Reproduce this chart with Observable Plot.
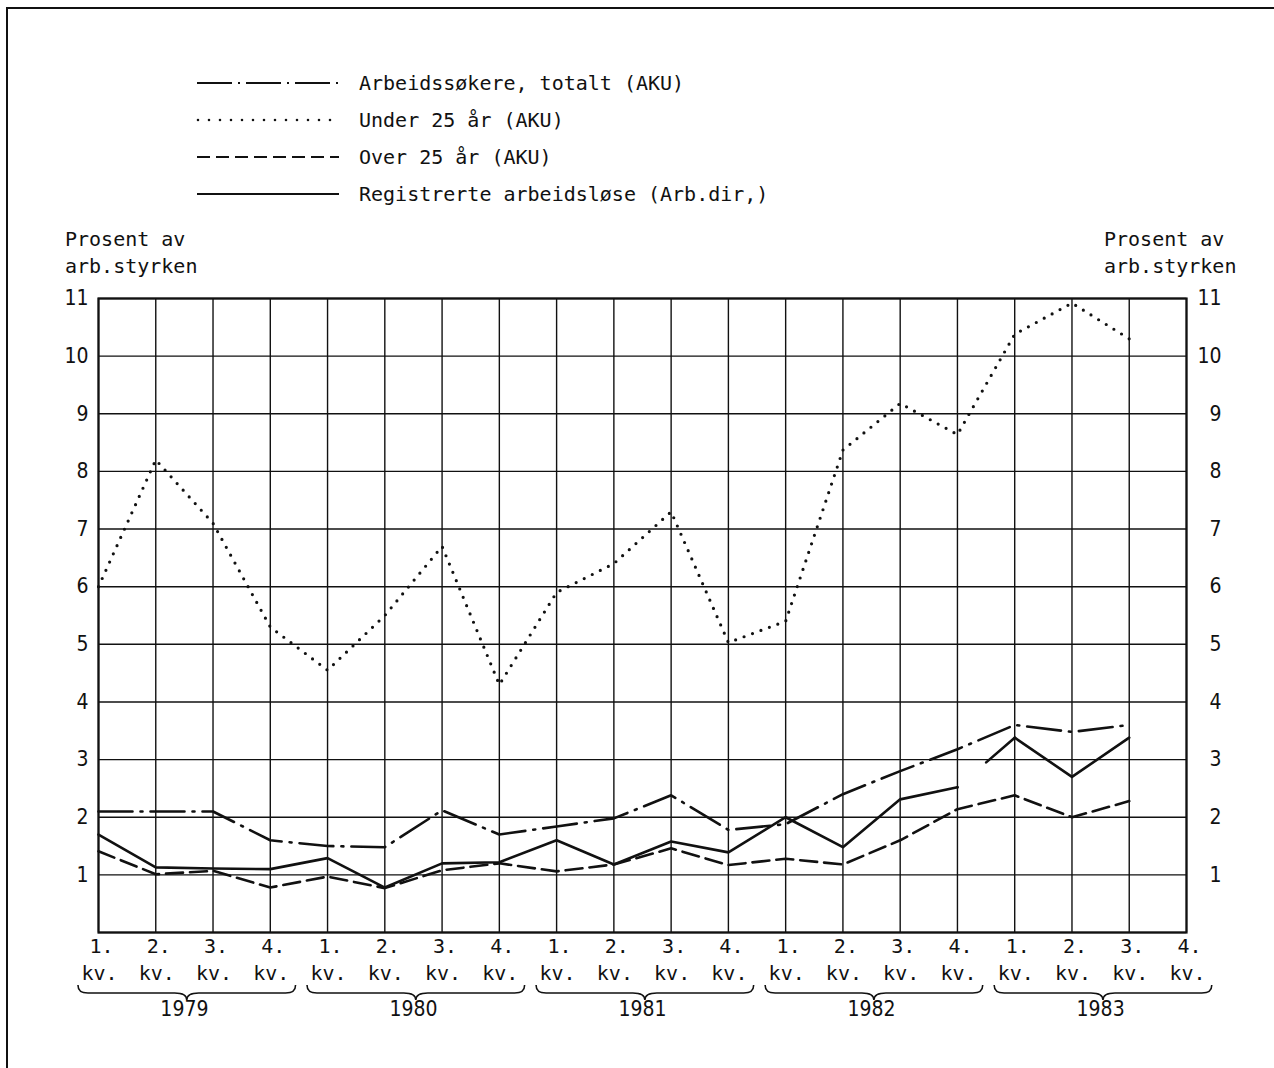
<!DOCTYPE html>
<html>
<head>
<meta charset="utf-8">
<script src="https://cdn.jsdelivr.net/npm/d3@7"></script>
<script src="https://cdn.jsdelivr.net/npm/@observablehq/plot@0.6"></script>
<style>
  html, body { margin: 0; padding: 0; background: #fff; }
  #page { position: relative; width: 1274px; height: 1068px; overflow: hidden; background: #fff; }
  #border { position: absolute; left: 6px; top: 7px; width: 1400px; height: 1200px; border-top: 2px solid #111; border-left: 2px solid #111; z-index: 5; pointer-events: none; }
  .mono { font-family: "DejaVu Sans Mono", "Liberation Mono", monospace; font-size: 20px; color: #111; }
  #legend { position: absolute; left: 196px; top: 64px; }
  .lrow { display: flex; align-items: center; height: 37px; }
  .lrow svg { display: block; margin-right: 19px; }
  .atitle { position: absolute; line-height: 27px; white-space: pre; }
  #chart { position: absolute; left: 0; top: 280px; }
</style>
</head>
<body>
<div id="page">
  <div id="legend" class="mono"></div>
  <div class="atitle mono" style="left:65px; top:226px;">Prosent av
arb.styrken</div>
  <div class="atitle mono" style="left:1104px; top:226px;">Prosent av
arb.styrken</div>
  <div id="chart"></div>
  <div id="border"></div>
</div>
<script>
// ---- data ----
const years = ["1979", "1980", "1981", "1982", "1983"];
const quarterLabels = ["1.", "2.", "3.", "4."];
const yTicks = [1, 2, 3, 4, 5, 6, 7, 8, 9, 10, 11];

// values per quarter, 1979 Q1 .. 1983 Q4 (null = no data)
const totalt   = [2.1, 2.1, 2.1, 1.6, 1.5, 1.48, 2.12, 1.7, 1.84, 1.98, 2.38, 1.78, 1.88, 2.4, 2.8, 3.18, 3.6, 3.48, 3.6, null];
const under25  = [6.0, 8.2, 7.1, 5.3, 4.55, 5.5, 6.7, 4.3, 5.9, 6.4, 7.3, 5.03, 5.4, 8.37, 9.18, 8.64, 10.38, 10.92, 10.3, null];
const over25   = [1.41, 1.01, 1.07, 0.78, 0.97, 0.77, 1.08, 1.2, 1.06, 1.18, 1.46, 1.17, 1.28, 1.18, 1.6, 2.14, 2.38, 2.0, 2.28, null];
const registrerte = [1.7, 1.13, 1.11, 1.1, 1.29, 0.78, 1.2, 1.22, 1.6, 1.18, 1.58, 1.39, 2.0, 1.48, 2.31, 2.52, 3.38, 2.7, 3.38, null];

const seriesNames = [
  "Arbeidssøkere, totalt (AKU)",
  "Under 25 år (AKU)",
  "Over 25 år (AKU)",
  "Registrerte arbeidsløse (Arb.dir,)"
];

// ---- styles ----
const ink = "#111";
const styles = [
  {dash: "34 8 2 8", width: 2.6, cap: "butt"},
  {dash: "0 9", width: 3.2, cap: "round"},
  {dash: "17 7", width: 2.6, cap: "butt"},
  {dash: null, width: 2.6, cap: "butt"}
];

// ---- legend ----
const legend = d3.select("#legend");
seriesNames.forEach((name, i) => {
  const row = legend.append("div").attr("class", "lrow");
  const s = row.append("svg").attr("width", 144).attr("height", 20);
  const ln = s.append("line").attr("x1", 1).attr("x2", 143).attr("y1", 10).attr("y2", 10)
    .attr("stroke", ink).attr("stroke-width", i === 1 ? 2.6 : 2.2).attr("stroke-linecap", styles[i].cap);
  if (i === 0) ln.attr("stroke-dasharray", "35 6 2 6");
  else if (i === 1) ln.attr("stroke-dasharray", "0 11").attr("x1", 2);
  else if (i === 2) ln.attr("stroke-dasharray", "13 6");
  row.append("span").text(name);
});

// ---- chart data ----
const toRows = (arr) => arr.map((v, i) => ({q: i, v}));
const qIdx = d3.range(20);
const qRows = qIdx.map(i => ({q: i, label: quarterLabels[i % 4]}));
const yearRows = years.map((y, k) => ({q: 4 * k + 1.5, label: y}));

const regA = toRows(registrerte).filter(d => d.q <= 15);
const regB = toRows(registrerte).filter(d => d.q >= 16);
const regGap = toRows(registrerte).filter(d => d.q === 15 || d.q === 16);

const monoFont = "DejaVu Sans Mono, Liberation Mono, monospace";
const numFont = "DejaVu Sans Condensed, Liberation Sans Narrow, DejaVu Sans, sans-serif";

const braces = (index, scales, values, dimensions) => {
  const g = d3.create("svg:g").attr("fill", "none").attr("stroke", ink).attr("stroke-width", 1.6);
  const yb = scales.y(0);
  years.forEach((yr, k) => {
    const x0 = scales.x(4 * k - 0.35), x1 = scales.x(4 * k + 3.45), xm = (x0 + x1) / 2;
    const y0 = yb + 61;
    const p = d3.path();
    p.moveTo(x0, y0 - 8);
    p.bezierCurveTo(x0, y0 - 2, x0 + 3, y0, x0 + 10, y0);
    p.lineTo(xm - 12, y0);
    p.bezierCurveTo(xm - 4, y0, xm, y0 + 2, xm, y0 + 7);
    p.bezierCurveTo(xm, y0 + 2, xm + 4, y0, xm + 12, y0);
    p.lineTo(x1 - 10, y0);
    p.bezierCurveTo(x1 - 3, y0, x1, y0 - 2, x1, y0 - 8);
    g.append("path").attr("d", p.toString());
  });
  return g.node();
};

const plot = Plot.plot({
  width: 1274,
  height: 760,
  marginLeft: 98,
  marginRight: 88,
  marginTop: 18,
  marginBottom: 108,
  x: {domain: [0, 19], axis: null},
  y: {domain: [0, 11], axis: null},
  style: {background: "transparent", color: ink, overflow: "visible"},
  marks: [
    Plot.ruleX(qIdx, {x: d => d, y1: 0, y2: 11, stroke: ink, strokeWidth: 1.4}),
    Plot.ruleY(d3.range(0, 12), {y: d => d, x1: 0, x2: 19, stroke: ink, strokeWidth: 1.4}),
    Plot.frame({stroke: ink, strokeWidth: 2.2}),
    Plot.line(toRows(totalt), {x: "q", y: "v", stroke: ink, strokeWidth: styles[0].width, strokeDasharray: styles[0].dash}),
    Plot.line(toRows(under25), {x: "q", y: "v", stroke: ink, strokeWidth: styles[1].width, strokeDasharray: styles[1].dash, strokeLinecap: "round"}),
    Plot.line(toRows(over25), {x: "q", y: "v", stroke: ink, strokeWidth: styles[2].width, strokeDasharray: styles[2].dash}),
    Plot.line(regA, {x: "q", y: "v", stroke: ink, strokeWidth: styles[3].width}),
    Plot.line(regB, {x: "q", y: "v", stroke: ink, strokeWidth: styles[3].width}),
    Plot.line(regGap, {x: "q", y: "v", stroke: ink, strokeWidth: styles[3].width, strokeDasharray: "0 38 200"}),
    // y tick labels left and right
    Plot.text(yTicks, {x: 0, y: d => d, text: d => String(d), dx: -10, textAnchor: "end", fontSize: 21, fontFamily: numFont, fill: ink}),
    Plot.text(yTicks, {x: 19, y: d => d, text: d => String(d), dx: 35, textAnchor: "end", fontSize: 21, fontFamily: numFont, fill: ink}),
    // quarter labels
    Plot.text(qRows, {x: "q", y: 0, text: "label", dy: 14, dx: 3, fontSize: 20, fontFamily: monoFont, fill: ink}),
    Plot.text(qRows, {x: "q", y: 0, text: () => "kv.", dy: 41, dx: 1, fontSize: 20, fontFamily: monoFont, fill: ink}),
    braces,
    Plot.text(yearRows, {x: "q", y: 0, text: "label", dy: 77, fontSize: 21, fontFamily: numFont, fill: ink})
  ]
});
document.getElementById("chart").appendChild(plot);
</script>
</body>
</html>
